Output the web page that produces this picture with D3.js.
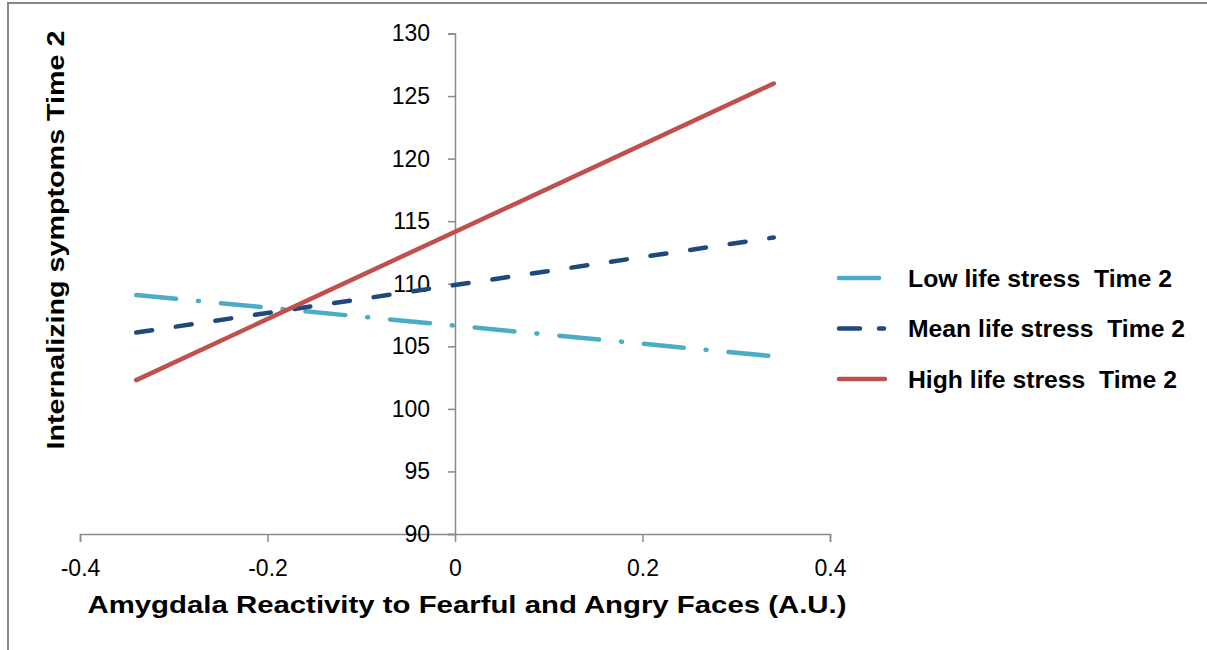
<!DOCTYPE html>
<html>
<head>
<meta charset="utf-8">
<script src="https://cdn.jsdelivr.net/npm/d3@7"></script>
<style>
  body { margin: 0; background: #fff; }
  text { font-family: "Liberation Sans", Arial, sans-serif; }
</style>
</head>
<body>
<svg id="chart"></svg>
<script>

// values
var xValues = [-0.34, 0.34]
var lowStress = [109.1, 104.2]
var meanStress = [106.1, 113.7]
var highStress = [102.3, 126.0]

var seriesNames = ["Low life stress  Time 2", "Mean life stress  Time 2", "High life stress  Time 2"]
var xTicks = [-0.4, -0.2, 0, 0.2, 0.4]
var yTicks = [90, 95, 100, 105, 110, 115, 120, 125, 130]

var screen = { width: 1207, height: 650 }

var svg = d3.select("#chart")
  .attr("width", screen.width)
  .attr("height", screen.height)

// frame (right and bottom edges fall outside the picture)
svg.append("rect")
  .attr("x", 8)
  .attr("y", 3)
  .attr("width", 1250)
  .attr("height", 700)
  .attr("fill", "none")
  .attr("stroke", "#878787")
  .attr("stroke-width", 2)

var xScale = d3.scaleLinear()
  .domain([-0.4, 0.4])
  .range([80, 830])

var yScale = d3.scaleLinear()
  .domain([90, 130])
  .range([534, 33.5])

var axisColor = "#8a8a8a"

var xAxis = d3.axisBottom(xScale)
  .tickValues(xTicks)
  .tickFormat(function(d){ return String(d) })
  .tickSize(8)
  .tickPadding(18)

var yAxis = d3.axisLeft(yScale)
  .tickValues(yTicks)
  .tickSize(7)
  .tickPadding(18)

var gx = svg.append("g")
  .attr("transform", "translate(0," + yScale(90) + ")")
  .call(xAxis)

var gy = svg.append("g")
  .attr("transform", "translate(" + xScale(0) + ",0)")
  .call(yAxis)

svg.selectAll(".domain, .tick line")
  .attr("stroke", axisColor)
  .attr("stroke-width", 1.5)

svg.selectAll(".tick text")
  .attr("fill", "#000")
  .style("font-size", "23px")
  .style("font-family", "'Liberation Sans', Arial, sans-serif")

var series = [
  { name: seriesNames[0], values: lowStress, color: "#4bacc6", dash: "40,22,1,22", width: 264 },
  { name: seriesNames[1], values: meanStress, color: "#1f497d", dash: "16,24", width: 277 },
  { name: seriesNames[2], values: highStress, color: "#c0504d", dash: null, width: 269 }
]

var line = d3.line()
  .x(function(d){ return xScale(d.x) })
  .y(function(d){ return yScale(d.y) })

svg.selectAll(".series")
  .data(series)
  .enter()
  .append("path")
  .attr("class", "series")
  .attr("d", function(s){
    return line(xValues.map(function(x, i){ return { x: x, y: s.values[i] } }))
  })
  .attr("fill", "none")
  .attr("stroke", function(s){ return s.color })
  .attr("stroke-width", 4.5)
  .attr("stroke-linecap", "round")
  .attr("stroke-dasharray", function(s){ return s.dash })

// legend
var legend = svg.selectAll(".legend")
  .data(series)
  .enter()
  .append("g")
  .attr("class", "legend")
  .attr("transform", function(d, i){ return "translate(839," + (278 + i * 50.5) + ")" })

legend.append("line")
  .attr("x1", 0)
  .attr("x2", function(d, i){ return i == 1 ? 45 : 46 })
  .attr("y1", 0)
  .attr("y2", 0)
  .attr("stroke", function(d){ return d.color })
  .attr("stroke-width", 4.5)
  .attr("stroke-linecap", "round")
  .attr("stroke-dasharray", function(d, i){ return i == 1 ? "21,19" : d.dash })

legend.append("text")
  .attr("x", 69)
  .attr("y", 8.5)
  .attr("font-size", "24px")
  .attr("font-weight", "bold")
  .attr("fill", "#000")
  .style("white-space", "pre")
  .attr("textLength", function(d){ return d.width })
  .attr("lengthAdjust", "spacingAndGlyphs")
  .text(function(d){ return d.name })

// axis titles
svg.append("text")
  .attr("x", 467)
  .attr("y", 613)
  .attr("text-anchor", "middle")
  .attr("font-size", "24.5px")
  .attr("font-weight", "bold")
  .attr("textLength", 759)
  .attr("lengthAdjust", "spacingAndGlyphs")
  .text("Amygdala Reactivity to Fearful and Angry Faces (A.U.)")

svg.append("text")
  .attr("transform", "translate(64,240) rotate(-90)")
  .attr("text-anchor", "middle")
  .attr("font-size", "24.5px")
  .attr("font-weight", "bold")
  .attr("textLength", 419)
  .attr("lengthAdjust", "spacingAndGlyphs")
  .text("Internalizing symptoms Time 2")

</script>
</body>
</html>
